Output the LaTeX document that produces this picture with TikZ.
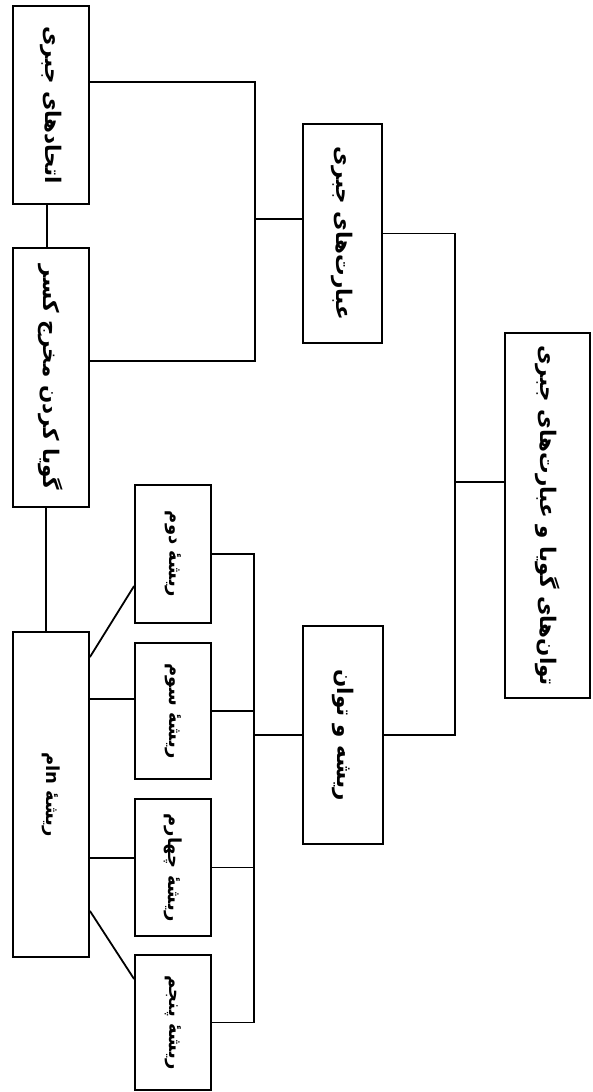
\documentclass[tikz,border=0pt]{standalone}
\usepackage{fontspec}
\newfontfamily\fa[Script=Arabic]{DejaVu Sans}
\TeXXeTstate=1
% Persian label turned a quarter clockwise
\newcommand{\vfa}[1]{\rotatebox{-90}{\fa\bfseries\beginR #1\endR}}
\tikzset{
  topic/.style={draw, line width=1.8pt, inner sep=0pt, fill=white,
    font=\fontsize{21.5}{24}\selectfont},
  subtopic/.style={topic, font=\fontsize{18}{20}\selectfont},
  link/.style={line width=1.8pt},
}
\begin{document}
\begin{tikzpicture}[x=1pt, y=-1pt]
  \fill[white] (0,0) rectangle (592,1092);
  \useasboundingbox (0,0) rectangle (592,1092);

  % root and the two main branches
  \node[topic, minimum width=85pt, minimum height=365pt] (root) at (547.5,515.5)
    {\vfa{توان^^^^200cهای گویا و عبارت^^^^200cهای جبری}};
  \node[topic, minimum width=79pt, minimum height=219pt] (expr) at (342.5,233.5)
    {\vfa{عبارت^^^^200cهای جبری}};
  \node[topic, minimum width=80pt, minimum height=218pt] (rootpow) at (343,735)
    {\vfa{ریشه و توان}};

  % children of the algebraic expressions
  \node[topic, minimum width=76pt, minimum height=198pt] (ident) at (51,105)
    {\vfa{اتحادهای جبری}};
  \node[topic, minimum width=76pt, minimum height=259pt] (rational) at (51,377.5)
    {\vfa{گویا کردن مخرج کسر}};
  \node[subtopic, minimum width=76pt, minimum height=325pt] (nth) at (51,794.5)
    {\vfa{ریشه^^^^0654 n\kern0ptام}};

  % children of roots and powers
  \node[subtopic, minimum width=76pt, minimum height=138pt] (sq) at (173,554)
    {\vfa{ریشه^^^^0654 دوم}};
  \node[subtopic, minimum width=76pt, minimum height=136pt] (cube) at (173,711)
    {\vfa{ریشه^^^^0654 سوم}};
  \node[subtopic, minimum width=76pt, minimum height=137pt] (fourth) at (173,867.5)
    {\vfa{ریشه^^^^0654 چهارم}};
  \node[subtopic, minimum width=76pt, minimum height=135pt] (fifth) at (173,1022.5)
    {\vfa{ریشه^^^^0654 پنجم}};

  % junctions
  \coordinate (jroot) at (455,482);
  \coordinate (jexpr) at (255,219);
  \coordinate (jpow) at (254,732);
  \coordinate (cubein) at ([yshift=12pt]cube.west);
  \coordinate (fourin) at ([yshift=9.5pt]fourth.west);

  \draw[link] (root.west |- jroot) -- (jroot);
  \draw[link] (expr.east) -| (jroot) |- (rootpow.east);
  \draw[link] (expr.west |- jexpr) -- (jexpr);
  \draw[link] ([yshift=23pt]ident.east) -| (jexpr) |- ([yshift=16.5pt]rational.east);
  \draw[link] ([xshift=-4pt]ident.south) -- ([xshift=-4pt]rational.north);
  \draw[link] ([xshift=-5pt]rational.south) -- ([xshift=-5pt]nth.north);
  \draw[link] (rootpow.west) -- (rootpow.west -| jpow);
  \draw[link] (sq.east) -| (jpow) |- (fifth.east);
  \draw[link] (cube.east) -- (cube.east -| jpow);
  \draw[link] (fourth.east) -- (fourth.east -| jpow);

  % the nth root leads to each of them
  \draw[link] ([yshift=-26pt]nth.north east) -- ([yshift=-32pt]sq.west);
  \draw[link] (cubein -| nth.east) -- (cubein);
  \draw[link] (fourin -| nth.east) -- (fourin);
  \draw[link] ([yshift=47pt]nth.south east) -- ([yshift=43.5pt]fifth.west);
\end{tikzpicture}
\end{document}
